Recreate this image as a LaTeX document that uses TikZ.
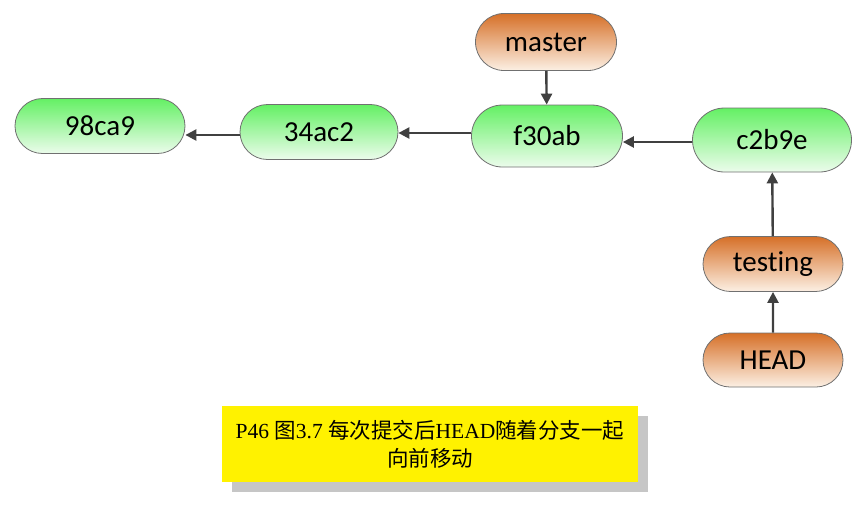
\documentclass[tikz,border=0pt]{standalone}
\usepackage{fontspec}
\setmainfont{Carlito}[Ligatures={NoCommon,NoRare}]
\newfontfamily\cjk{Noto Sans CJK SC}
\newfontfamily\capserif{Liberation Serif}
\usetikzlibrary{shapes.misc,arrows.meta,shadows}
\definecolor{edgegray}{HTML}{404040}
\definecolor{bordergray}{HTML}{707070}
\tikzset{
  commit/.style={rounded rectangle, draw=bordergray, line width=0.8pt,
    top color={rgb,255:red,100;green,240;blue,100}, bottom color={rgb,255:red,236;green,252;blue,236},
    minimum height=55pt, font=\fontsize{29}{32}\selectfont, inner sep=0pt},
  branch/.style={rounded rectangle, draw=bordergray, line width=0.8pt,
    top color={rgb,255:red,214;green,112;blue,40}, bottom color={rgb,255:red,252;green,240;blue,228},
    minimum height=56pt, minimum width=140pt, font=\fontsize{29}{32}\selectfont, inner sep=0pt},
  link/.style={draw=edgegray, line width=2.4pt, -{Triangle[length=11pt,width=11pt]}},
  caption/.style={fill=yellow, minimum width=416pt, minimum height=76pt, align=center,
    font=\fontsize{21.5}{28}\selectfont, inner sep=0pt}
}
\begin{document}
\begin{tikzpicture}[x=1pt,y=-1pt]
\useasboundingbox (0,0) rectangle (868,504);
\node[commit, minimum width=170pt] (c1) at (100,126) {98ca9};
\node[commit, minimum width=158pt] (c2) at (319,132) {34ac2};
\node[commit, minimum width=151pt, minimum height=62pt] (c3) at (547,136) {f30ab};
\node[commit, minimum width=159pt, minimum height=64pt] (c4) at (772,140) {c2b9e};
\node[branch, minimum width=141pt, minimum height=57pt] (master) at (546,42) {master};
\node[branch, minimum height=55pt] (testing) at (773,264) {testing};
\node[branch, minimum height=54pt] (head) at (773,360) {HEAD};
\draw[link] (c2.west |- 0,135) -- (c1.east |- 0,135);
\draw[link] (c3.west |- 0,133) -- (c2.east |- 0,133);
\draw[link] (c4.west |- 0,142) -- (c3.east |- 0,142);
\draw[link] (master) -- (c3);
\draw[link] (testing) -- (c4);
\draw[link] (head) -- (testing);
\fill[gray!45] (232,416) rectangle (648,492);
\node[caption] (cap) at (430,444) {{\capserif P46 }{\cjk 图}{\capserif 3.7 }{\cjk 每次提交后}{\capserif HEAD}{\cjk 随着分支一起}\\{\cjk 向前移动}};
\end{tikzpicture}
\end{document}
